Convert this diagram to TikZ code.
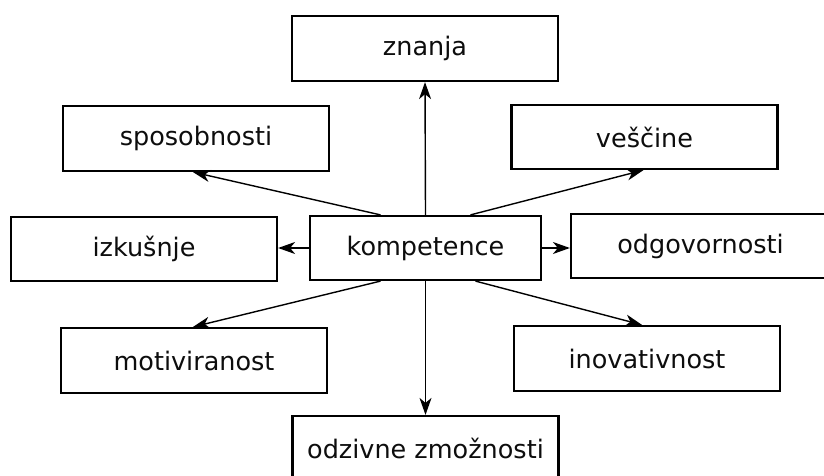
\documentclass[tikz,border=0pt]{standalone}
\usepackage{fontspec}
\setmainfont{DejaVu Sans}
\usetikzlibrary{arrows.meta}
\begin{document}
\begin{tikzpicture}[x=1pt,y=-1pt,
  box/.style={draw=black,line width=2.2pt,fill=white,inner sep=0pt,
    minimum width=266pt,minimum height=65pt,
    font=\fontsize{25.5}{30}\selectfont,text=black!95},
  link/.style={line width=1.4pt,-{Stealth[length=17pt,width=12pt,inset=5pt]}}]
  \useasboundingbox (0,0) rectangle (824,476);
  \clip (0,0) rectangle (824,476);
  % central concept
  \node[box,minimum width=231pt,minimum height=64pt] (komp) at (425.5,248) {kompetence};
  % surrounding components
  \node[box] (zna) at (425,48.5) {znanja};
  \node[box] (spo) at (196,138.5) {sposobnosti};
  \node[box,minimum height=64pt] (ves) at (644.5,137) {veščine};
  \node[box,minimum height=64pt] (izk) at (144,249) {izkušnje};
  \node[box,minimum width=259pt,minimum height=64pt] (odg) at (700.5,246) {odgovornosti};
  \node[box] (mot) at (194,360.5) {motiviranost};
  \node[box] (ino) at (647,358.5) {inovativnost};
  \node[box] (odz) at (425.5,448.5) {odzivne zmožnosti};
  % connectors from the centre
  \draw[link] (komp.north) -- (zna.south);
  \draw[link] (komp.south) -- (odz.north);
  \draw[link] (komp.west) -- (izk.east |- komp.west);
  \draw[link] (komp.east) -- (odg.west |- komp.east);
  \draw[link] ([xshift=-45pt]komp.north) -- ([xshift=-3pt]spo.south);
  \draw[link] ([xshift=45pt]komp.north) -- ([xshift=-1pt]ves.south);
  \draw[link] ([xshift=-45pt]komp.south) -- ([xshift=-1pt]mot.north);
  \draw[link] ([xshift=50pt]komp.south) -- ([xshift=-5pt]ino.north);
\end{tikzpicture}
\end{document}
